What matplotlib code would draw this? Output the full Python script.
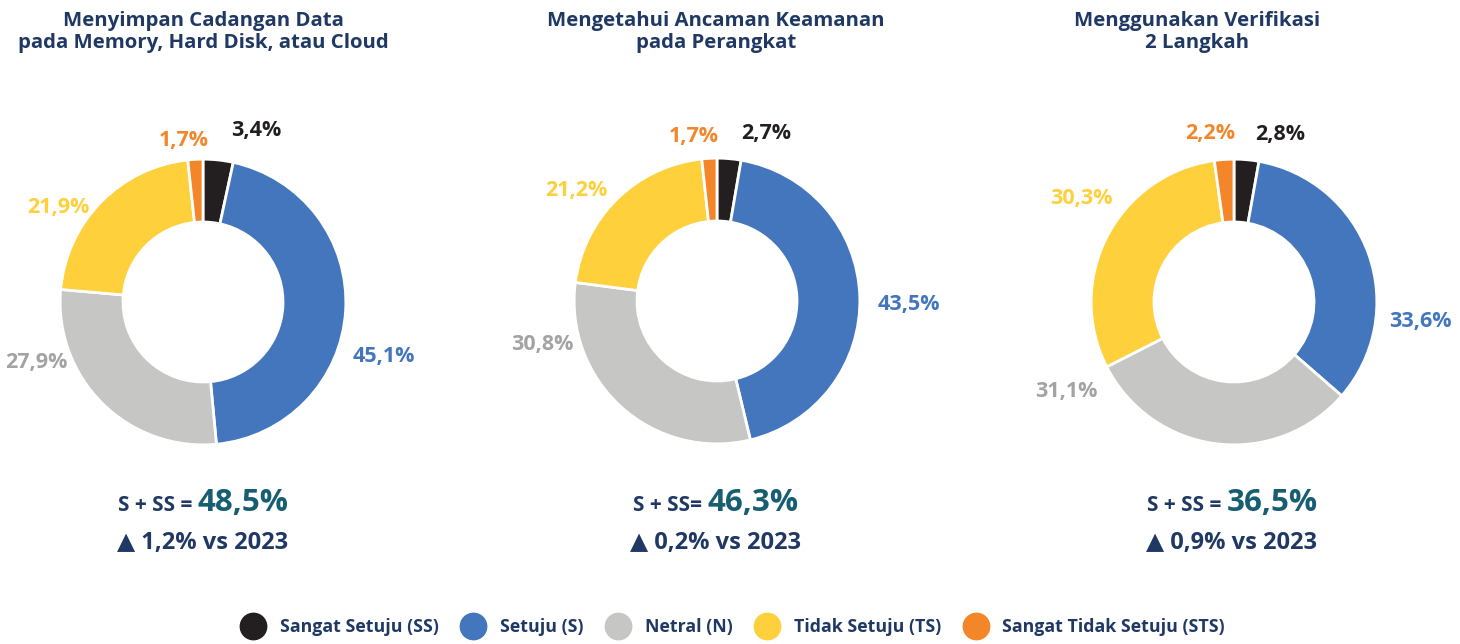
import numpy as np
import matplotlib
matplotlib.use("Agg")
from matplotlib import pyplot as plt
from matplotlib.lines import Line2D

plt.rcParams['font.family'] = ['Open Sans', 'DejaVu Sans']

# ---- data ---------------------------------------------------------------
CATEGORIES = ['Sangat Setuju (SS)', 'Setuju (S)', 'Netral (N)',
              'Tidak Setuju (TS)', 'Sangat Tidak Setuju (STS)']
TITLES = ['Menyimpan Cadangan Data\npada Memory, Hard Disk, atau Cloud',
          'Mengetahui Ancaman Keamanan\npada Perangkat',
          'Menggunakan Verifikasi\n2 Langkah']
VALUES_BACKUP = [3.4, 45.1, 27.9, 21.9, 1.7]
VALUES_THREAT = [2.7, 43.5, 30.8, 21.2, 1.7]
VALUES_2FA = [2.8, 33.6, 31.1, 30.3, 2.2]
S_SS = [48.5, 46.3, 36.5]
S_SS_PREFIX = ['S + SS = ', 'S + SS= ', 'S + SS = ']
CHANGE_VS_2023 = [1.2, 0.2, 0.9]

# ---- style / layout -----------------------------------------------------
COLORS = ['#231f20', '#4376bd', '#c6c6c4', '#fdd03c', '#f4862a']
LABEL_COLORS = ['#231f20', '#4376bd', '#a3a3a3', '#fdd03c', '#f4862a']
NAVY = '#1f3864'
TEAL = '#175e72'

W, H = 1460, 644
CENTERS = [(203, 302), (717, 301), (1234, 302)]   # donut centres, px from top-left
TITLE_X = [203, 716, 1197]
SUMMARY_X = [203, 716, 1232]
HALF = 200  # half size of each donut axes in px (radius 1 -> ~143 px)

# label placement (angle in degrees, distance in radii) per chart, per category
LABEL_POS = [
    [(72.8, 1.26), (-16.7, 1.32), (-160, 1.24), (146.7, 1.21), (96.7, 1.14)],
    [(73.7, 1.22), (-0.9, 1.34), (-166, 1.26), (141.8, 1.25), (98.0, 1.16)],
    [(74.5, 1.22), (-5.9, 1.31), (-152, 1.33), (146.0, 1.29), (98.0, 1.19)],
]


def fmt(v):
    return ('%.1f' % v).replace('.', ',')


fig = plt.figure(figsize=(W / 100, H / 100), dpi=100)

all_values = [VALUES_BACKUP, VALUES_THREAT, VALUES_2FA]
summary_texts = []

for i, values in enumerate(all_values):
    cx, cy = CENTERS[i]
    ax = fig.add_axes([(cx - HALF) / W, (H - cy - HALF) / H, 2 * HALF / W, 2 * HALF / H])
    ax.pie(values, colors=COLORS, startangle=90, counterclock=False, radius=1.0,
           wedgeprops=dict(width=0.44, edgecolor='white', linewidth=2))
    ax.set_xlim(-1.4, 1.4)
    ax.set_ylim(-1.4, 1.4)
    ax.set_aspect('equal')
    ax.axis('off')

    for j, v in enumerate(values):
        ang, dist = LABEL_POS[i][j]
        a = np.deg2rad(ang)
        ax.text(dist * np.cos(a), dist * np.sin(a), fmt(v) + '%',
                ha='center', va='center', fontsize=15.5, fontweight='bold',
                color=LABEL_COLORS[j])

    # chart title
    fig.text(TITLE_X[i] / W, 1 - 32 / H, TITLES[i], ha='center', va='center',
             fontsize=14.7, fontweight='bold', color=NAVY, linespacing=1.18)

    # summary lines
    t1 = fig.text(SUMMARY_X[i] / W, 1 - 511 / H, S_SS_PREFIX[i], ha='left', va='baseline',
                  fontsize=15, fontweight='bold', color=NAVY)
    t2 = fig.text(SUMMARY_X[i] / W, 1 - 511 / H, fmt(S_SS[i]) + '%', ha='left', va='baseline',
                  fontsize=22.5, fontweight='bold', color=TEAL)
    summary_texts.append((SUMMARY_X[i], t1, t2))

    fig.text(SUMMARY_X[i] / W, 1 - 543 / H, '\u25b2 ' + fmt(CHANGE_VS_2023[i]) + '% vs 2023',
             ha='center', va='center', fontsize=17, fontweight='bold', color=NAVY)

# centre the two-part "S + SS = xx%" lines
fig.canvas.draw()
renderer = fig.canvas.get_renderer()
for x, t1, t2 in summary_texts:
    w1 = t1.get_window_extent(renderer).width
    w2 = t2.get_window_extent(renderer).width
    left = x - (w1 + w2) / 2
    t1.set_x(left / W)
    t2.set_x((left + w1) / W)

handles = [Line2D([], [], marker='o', linestyle='none', markersize=19,
                  markerfacecolor=c, markeredgecolor=c) for c in COLORS]
fig.legend(handles, CATEGORIES, loc='lower center', bbox_to_anchor=(0.5, -0.012),
           ncol=5, frameon=False, labelcolor=NAVY,
           prop=dict(weight='bold', size=12.8), columnspacing=0.95, handletextpad=0.5)

fig.savefig('out.png', dpi=100)
